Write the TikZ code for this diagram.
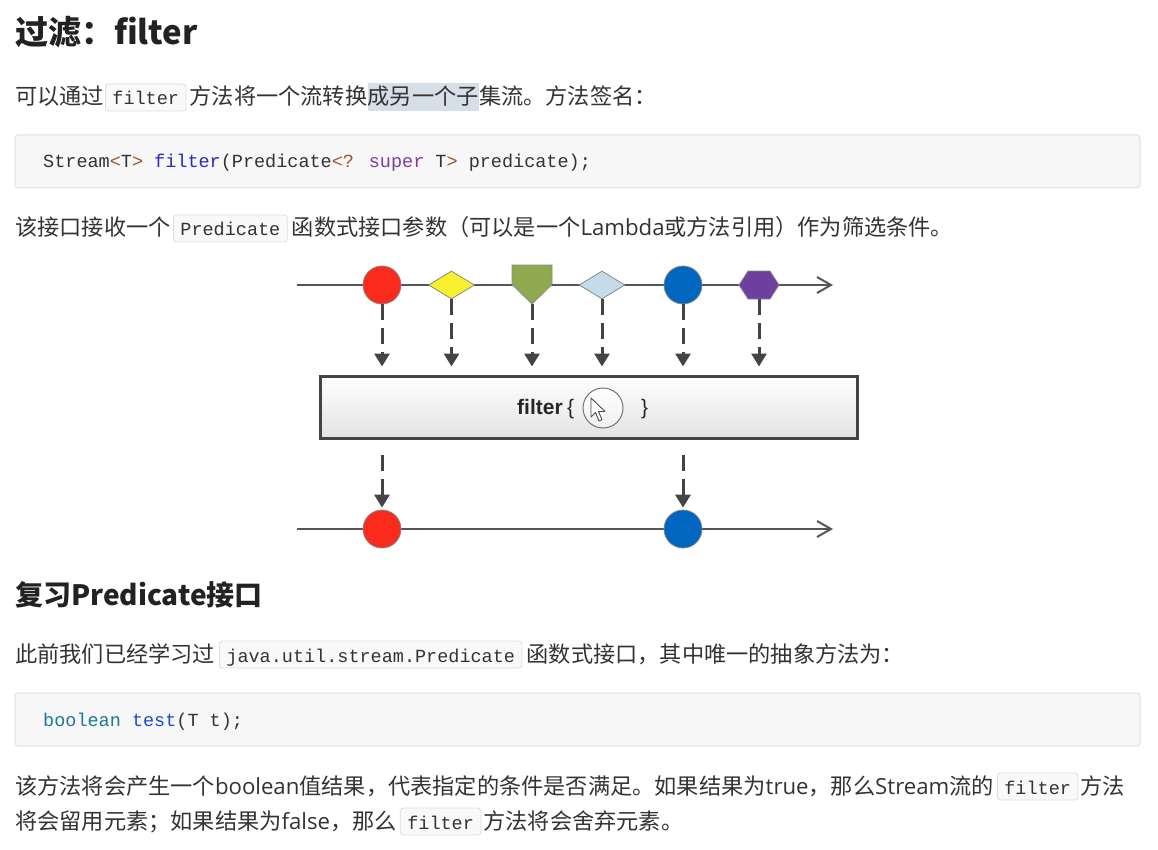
\documentclass[tikz,border=0pt]{standalone}
\usepackage{fontspec}
\setmainfont{Noto Sans CJK SC}
\newfontfamily\codefont{Liberation Mono}
\newfontfamily\arialfont{Liberation Sans}
\newfontfamily\latfont{Open Sans}
\usetikzlibrary{arrows.meta,shapes.geometric,calc}
\definecolor{txtc}{HTML}{333333}
\definecolor{headc}{HTML}{222222}
\definecolor{codebg}{HTML}{F7F7F7}
\definecolor{codebd}{HTML}{E1E1E1}
\definecolor{icbg}{HTML}{F9F9F9}
\definecolor{icbd}{HTML}{DDDDDD}
\definecolor{hlc}{HTML}{D6DEE7}
\definecolor{kwblue}{HTML}{2A2AB8}
\definecolor{kwblueb}{HTML}{1C4FC8}
\definecolor{kwpurple}{HTML}{7A3E9D}
\definecolor{kwbrown}{HTML}{A0522D}
\definecolor{kwteal}{HTML}{1E7896}
\definecolor{lineg}{HTML}{555555}
\definecolor{arrg}{HTML}{444444}
\definecolor{shred}{HTML}{FA2A1C}
\definecolor{shyellow}{HTML}{F8F02C}
\definecolor{shgreen}{HTML}{8FAA4E}
\definecolor{shlblue}{HTML}{C4DCEA}
\definecolor{shblue}{HTML}{0066C0}
\definecolor{shpurple}{HTML}{6F3FA0}
\definecolor{shbd}{HTML}{888888}
\tikzset{
  txt/.style={anchor=base west, inner sep=0pt, text=txtc, font=\fontsize{22.2}{26}\selectfont},
  hl/.style={fill=hlc, text height=22pt, text depth=6pt},
  icode/.style={anchor=base west, inner xsep=7pt, inner ysep=0pt, text height=21pt, text depth=6pt,
     fill=icbg, draw=icbd, line width=0.8pt, rounded corners=3pt, text=txtc,
     font=\codefont\fontsize{18.5}{22}\selectfont},
  cblock/.style={fill=codebg, draw=codebd, line width=1pt, rounded corners=3pt,
     minimum width=1125pt, minimum height=53pt, inner sep=0pt},
  ctext/.style={anchor=base west, inner sep=0pt, text=txtc, font=\codefont\fontsize{18.5}{22}\selectfont},
  head/.style={anchor=base west, inner sep=0pt, text=headc, font=\bfseries\fontsize{33}{37}\selectfont},
  tl/.style={line width=2.5pt, lineg, -{Straight Barb[length=14pt,width=16pt,line width=2pt]}},
  darr/.style={line width=3pt, arrg, dash pattern=on 16pt off 8pt, -{Triangle[length=13pt,width=15pt]}},
  dot/.style={circle, draw=shbd, line width=0.8pt, minimum size=38pt, inner sep=0pt},
  dia/.style={diamond, draw=shbd, line width=0.8pt, inner sep=0pt, minimum width=46pt, minimum height=28pt},
  helper/.style={inner sep=0pt, outer sep=0pt},
}
\begin{document}
\begin{tikzpicture}[x=1pt,y=-1pt]
\useasboundingbox[fill=white] (0,0) rectangle (1158,850);

% ---------- heading 1 ----------
\node[head] (h1) at (15,45) {过滤：filter};

% ---------- line 1 ----------
\node[txt] (p1a) at (15,105) {可以通过};
\node[icode] (c1) at (105,105) {filter};
\node[txt] (p1b) at ([xshift=3pt]c1.base east) {方法将一个流转换};
\node[txt,hl] (p1c) at (p1b.base east) {成另一个子};
\node[txt] (p1d) at (p1c.base east) {集流。方法签名：};

% ---------- code block 1 ----------
\node[cblock] (cb1) at (577.5,161.5) {};
\node[ctext] (cb1t) at (43,168) {Stream{\color{kwbrown}<}T{\color{kwbrown}>} {\color{kwblue}filter}(Predicate{\color{kwbrown}<?} {\color{kwpurple}super} T{\color{kwbrown}>} predicate);};

% ---------- line 2 ----------
\node[txt] (p2a) at (15,236) {该接口接收一个};
\node[icode] (c2) at (173,236) {Predicate};
\node[txt] (p2b) at ([xshift=4pt]c2.base east) {函数式接口参数（可以是一个{\latfont Lambda}或方法引用）作为筛选条件。};

% ---------- diagram ----------
\coordinate (tls) at (297,285);
\coordinate (tle) at (833,285);
\draw[tl] (tls) -- (tle);

\node[dot, fill=shred] (s1) at (382,285) {};
\node[dia, fill=shyellow] (s2) at (451.5,285) {};
\node[helper, minimum width=40pt, minimum height=39pt] (s3) at (532,284.5) {};
\filldraw[fill=shgreen, draw=shbd, line width=0.8pt] (s3.north west) -- (s3.north east) -- (s3.east) -- (s3.south) -- (s3.west) -- cycle;
\node[dia, fill=shlblue] (s4) at (602,285) {};
\node[dot, fill=shblue] (s5) at (683,285) {};
\node[helper, minimum width=40pt, minimum height=28pt] (s6) at (759,285) {};
\filldraw[fill=shpurple, draw=shbd, line width=0.8pt] (s6.west) -- ([xshift=9pt]s6.north west) -- ([xshift=-9pt]s6.north east) -- (s6.east) -- ([xshift=-9pt]s6.south east) -- ([xshift=9pt]s6.south west) -- cycle;

\node[draw=arrg, line width=3pt, top color=white, bottom color=black!11, minimum width=537pt, minimum height=62pt, inner sep=0pt] (fb) at (588.5,407) {};

\foreach \s in {s1,s2,s3,s4,s5,s6}
  \draw[darr, shorten >=8pt] (\s.south) -- (\s.south |- fb.north);

\node[anchor=base west, inner sep=0pt, font=\arialfont\bfseries\fontsize{21}{24}\selectfont, text=black!85] (ft) at (517,414.5) {filter};
\node[anchor=base west, inner sep=0pt, font=\arialfont\fontsize{21}{24}\selectfont, text=black!85] (lb) at (567,414.5) {\{};
\node[circle, draw=black!55, line width=1pt, top color=white, bottom color=black!6, minimum size=40pt, inner sep=0pt] (cur) at (603,408) {};
\filldraw[fill=white, draw=black!70, line width=0.9pt, line join=round, shift={(cur.center)}]
  (-12,-10) -- ++(0,19) -- ++(4.5,-4.5) -- ++(3.5,8.5) -- ++(3,-1.3) -- ++(-3.5,-8.2) -- ++(6.5,0) -- cycle;
\node[anchor=base west, inner sep=0pt, font=\arialfont\fontsize{21}{24}\selectfont, text=black!85] (rb) at (641,414.5) {\}};

\coordinate (bls) at (297,529);
\coordinate (ble) at (833,529);
\draw[tl] (bls) -- (ble);
\node[dot, fill=shred] (r2) at (382,529) {};
\node[dot, fill=shblue] (b2) at (683,529) {};
\draw[darr, shorten <=15pt, shorten >=2pt] (fb.south -| r2.north) -- (r2.north);
\draw[darr, shorten <=15pt, shorten >=2pt] (fb.south -| b2.north) -- (b2.north);

% ---------- heading 2 ----------
\node[head, font=\bfseries\fontsize{28}{32}\selectfont] (h2) at (15,605) {复习Predicate接口};

% ---------- line 4 ----------
\node[txt] (p4a) at (15,662) {此前我们已经学习过};
\node[icode] (c4) at (219,662) {java.util.stream.Predicate};
\node[txt] (p4b) at ([xshift=4pt]c4.base east) {函数式接口，其中唯一的抽象方法为：};

% ---------- code block 2 ----------
\node[cblock] (cb2) at (577.5,719.5) {};
\node[ctext] (cb2t) at (43,726) {{\color{kwteal}boolean} {\color{kwblueb}test}(T t);};

% ---------- lines 6-7 ----------
\node[txt] (p6a) at (15,794) {该方法将会产生一个{\latfont boolean}值结果，代表指定的条件是否满足。如果结果为{\latfont true}，那么{\latfont Stream}流的};
\node[icode] (c6) at ([xshift=3pt]p6a.base east) {filter};
\node[txt] (p6b) at ([xshift=2pt]c6.base east) {方法};

\node[txt] (p7a) at (15,829) {将会留用元素；如果结果为{\latfont false}，那么};
\node[icode] (c7) at ([xshift=3pt]p7a.base east) {filter};
\node[txt] (p7b) at ([xshift=2pt]c7.base east) {方法将会舍弃元素。};
\end{tikzpicture}
\end{document}
